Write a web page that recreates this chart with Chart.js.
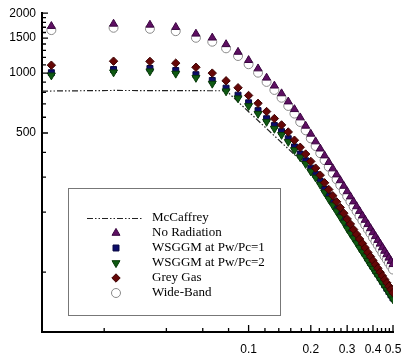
<!DOCTYPE html>
<html><head><meta charset="utf-8">
<script src="https://cdn.jsdelivr.net/npm/chart.js@4/dist/chart.umd.min.js"></script>
<style>html,body{margin:0;padding:0;background:#fff}</style>
</head><body>
<canvas id="c" width="415" height="355"></canvas>
<script>
// ---- data ----
const xValues = [0.0111,0.0222,0.0333,0.0444,0.0556,0.0667,0.0778,0.0889,0.1,0.1111,0.1222,0.1333,0.1444,0.1556,0.1667,0.1778,0.1889,0.2,0.2111,0.2222,0.2333,0.2444,0.2556,0.2667,0.2778,0.2889,0.3,0.3111,0.3222,0.3333,0.3444,0.3556,0.3667,0.3778,0.3889,0.4,0.4111,0.4222,0.4333,0.4444,0.4556,0.4667,0.4778,0.4889,0.5];
const noRadiation = [1722,1768,1748,1702,1576,1506,1395,1277,1161,1054,947,864,790,719,658,598,543,495,453,417,385,356.6,331.4,309,288.9,270.8,254.4,239.6,226.1,213.8,202.5,192.2,182.7,173.9,165.8,158.3,151.3,144.8,138.7,133,127.7,122.7,118,113.6,109.5];
const wsggm1 = [1005,1042,1055,1030,982,918,840,775,709,648,590,545,508,468,425.5,392,362.6,333,309.7,285.5,261.3,241.8,225,209.7,196.2,183.9,172,162.1,153.2,144.9,137.2,130.2,123.8,117.4,111.9,106.9,102.1,98.2,93.8,90,86.4,83,79.8,76.8,74.1];
const wsggm2 = [975,1010,1022,995,948,886,811,748,684,625,570,526,490,452,411,378,350,321,299,275.5,252,233.3,217,202.4,189.3,177.5,166,156.4,148,140,132.5,126,120,114,108.7,104,99.4,95.8,91.6,88,84.6,81.4,78.4,75.5,73];
const greyGas = [1096,1148,1145,1122,1070,1000,915,844,772,705,641,591,549,506,460,424,392,360,333,307,281,260,242,225.5,211,197.7,185,174.3,163.8,155,146.7,139.3,132.4,125.6,119.7,114.3,109.2,104.5,99.8,95.7,91.9,88.3,84.9,81.7,78.8];
const wideBand = [1645,1690,1670,1625,1505,1438,1332,1219,1108,1005,903,823,752,684,626,568,516,470,430,396,365,338,314,292.5,273.5,256,240.5,226.5,213.5,202,191,181.5,172.5,164,156.5,149,142.5,136.5,130.5,125,120,115.5,111,107,103];
const mcCaffreyX = [0.01,0.0222,0.078,0.2,0.5];
const mcCaffreyY = [812,818,815,326,70];
const seriesNames = ["McCaffrey","No Radiation","WSGGM at Pw/Pc=1","WSGGM at Pw/Pc=2","Grey Gas","Wide-Band"];
const xTickLabels = [0.1,0.2,0.3,0.4,0.5];
const xMinorTicks = [0.02,0.04,0.06,0.08,0.12,0.14,0.16,0.18,0.22,0.24,0.26,0.28,0.32,0.34,0.36,0.38,0.42,0.44,0.46,0.48];
const yTickLabels = [500,1000,1500,2000];
const yMinorTicks = [100,200,300,400,600,700,800,900,1100,1200,1300,1400,1600,1700,1800,1900];

const pts = ys => ys.map((y,i)=>({x:xValues[i], y}));

const styles = {
  mc:{color:'#222'},
  nr:{fill:'#5e0f62', stroke:'#3a0540', shape:'triangle', r:4.6, rot:0},
  w1:{fill:'#0c0c6a', stroke:'#05053f', shape:'rect', r:4.2, rot:0},
  w2:{fill:'#0f5a12', stroke:'#063a08', shape:'triangle', r:4.6, rot:180},
  gg:{fill:'#650707', stroke:'#3e0303', shape:'rectRot', r:4.2, rot:0},
  wb:{fill:'#ffffff', stroke:'#8a8a8a', shape:'circle', r:4.5, rot:0}
};
function ds(label, data, s, order){
  return {label, data:pts(data), showLine:false, order,
    pointStyle:s.shape, pointRadius:s.r, pointRotation:s.rot,
    pointBackgroundColor:s.fill, pointBorderColor:s.stroke, pointBorderWidth:1};
}

function drawMarker(ctx, s, x, y){
  ctx.save();
  ctx.fillStyle=s.fill; ctx.strokeStyle=s.stroke; ctx.lineWidth=1;
  ctx.beginPath();
  const r=s.r;
  if(s.shape==='circle'){ ctx.arc(x,y,r,0,Math.PI*2); }
  else if(s.shape==='rect'){ const h=r*Math.SQRT1_2; ctx.rect(x-h,y-h,2*h,2*h); }
  else if(s.shape==='rectRot'){ ctx.moveTo(x,y-r); ctx.lineTo(x+r,y); ctx.lineTo(x,y+r); ctx.lineTo(x-r,y); ctx.closePath(); }
  else if(s.shape==='triangle'){
    let a = s.rot*Math.PI/180;
    for(let k=0;k<3;k++){ const px=x+Math.sin(a)*r, py=y-Math.cos(a)*r; if(k===0)ctx.moveTo(px,py); else ctx.lineTo(px,py); a+=2*Math.PI/3; }
    ctx.closePath();
  }
  ctx.fill(); ctx.stroke();
  ctx.restore();
}

const decor = {
  id:'decor',
  afterDraw(chart){
    const {ctx, chartArea:a, scales:{x, y}} = chart;
    ctx.save();
    ctx.strokeStyle='#000'; ctx.lineWidth=1.3;
    ctx.beginPath();
    for(const v of xTickLabels){ const p=x.getPixelForValue(v); ctx.moveTo(p,a.bottom); ctx.lineTo(p,a.bottom-7); }
    for(const v of xMinorTicks){ const p=x.getPixelForValue(v); ctx.moveTo(p,a.bottom); ctx.lineTo(p,a.bottom-4); }
    for(const v of yTickLabels){ const p=y.getPixelForValue(v); ctx.moveTo(a.left,p); ctx.lineTo(a.left+6,p); }
    for(const v of yMinorTicks){ const p=y.getPixelForValue(v); ctx.moveTo(a.left,p); ctx.lineTo(a.left+4,p); }
    ctx.stroke();

    // legend box
    const bx=68.5, by=188.5, bw=212, bh=127;
    ctx.fillStyle='#fff'; ctx.fillRect(bx,by,bw,bh);
    ctx.strokeStyle='#777'; ctx.lineWidth=1; ctx.strokeRect(bx,by,bw,bh);
    const keys=['mc','nr','w1','w2','gg','wb'];
    ctx.font='13px "Liberation Serif", "Times New Roman", serif';
    ctx.textBaseline='middle'; ctx.textAlign='left';
    keys.forEach((k,i)=>{
      const yy = 218 + i*15;
      if(k==='mc'){
        ctx.save(); ctx.strokeStyle=styles.mc.color; ctx.lineWidth=1.2;
        ctx.setLineDash([6,2,1.5,2,1.5,2]);
        ctx.beginPath(); ctx.moveTo(87,yy+0.5); ctx.lineTo(142,yy+0.5); ctx.stroke(); ctx.restore();
      } else {
        drawMarker(ctx, styles[k], 116, yy);
      }
      ctx.fillStyle='#000';
      ctx.fillText(seriesNames[i], 152, yy);
    });
    ctx.restore();
  }
};

new Chart(document.getElementById('c'), {
  type:'scatter',
  data:{datasets:[
    {label:seriesNames[0], data:mcCaffreyX.map((x,i)=>({x, y:mcCaffreyY[i]})), showLine:true, pointRadius:0,
     borderColor:styles.mc.color, borderWidth:1.2, borderDash:[6,2,1.5,2,1.5,2], order:6},
    ds(seriesNames[1], noRadiation, styles.nr, 4),
    ds(seriesNames[2], wsggm1, styles.w1, 3),
    ds(seriesNames[3], wsggm2, styles.w2, 2),
    ds(seriesNames[4], greyGas, styles.gg, 1),
    ds(seriesNames[5], wideBand, styles.wb, 5)
  ]},
  options:{
    responsive:false, animation:false,
    layout:{padding:{top:11, right:22, left:0, bottom:0}},
    plugins:{legend:{display:false}, tooltip:{enabled:false}},
    scales:{
      x:{type:'logarithmic', min:0.01, max:0.5,
        afterBuildTicks:s=>{ s.ticks = xTickLabels.map(v=>({value:v})); },
        afterFit:s=>{ s.height = 23; },
        grid:{display:true, drawOnChartArea:false, drawTicks:false},
        border:{display:true, color:'#000', width:2},
        ticks:{autoSkip:false, maxRotation:0, padding:10, color:'#000',
          font:{family:'"Liberation Sans", Arial, sans-serif', size:12},
          callback:v=>String(v)}
      },
      y:{type:'logarithmic', min:50, max:2000,
        afterBuildTicks:s=>{ s.ticks = yTickLabels.map(v=>({value:v})); },
        afterFit:s=>{ s.width = 42; },
        grid:{display:true, drawOnChartArea:false, drawTicks:false},
        border:{display:true, color:'#000', width:2},
        ticks:{autoSkip:false, padding:6, color:'#000',
          font:{family:'"Liberation Sans", Arial, sans-serif', size:12},
          callback:v=>String(v)}
      }
    }
  },
  plugins:[decor]
});
</script>
</body></html>
